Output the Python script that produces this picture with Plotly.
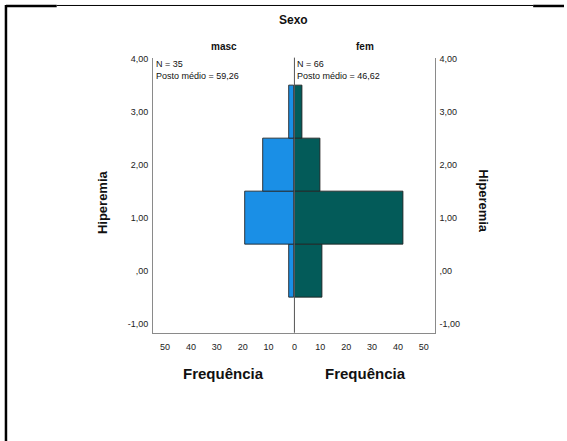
import plotly.graph_objects as go

# ---- data ----
hiperemia_bins = [0, 1, 2, 3]
masc_freq = [2, 19, 12, 2]
fem_freq = [11, 42, 10, 3]
y_tickvals = [-1, 0, 1, 2, 3, 4]
y_ticktext = ["-1,00", ",00", "1,00", "2,00", "3,00", "4,00"]
x_ticks_left = [0, 10, 20, 30, 40, 50]
x_ticks_right = [10, 20, 30, 40, 50]
group_labels = ["masc", "fem"]
group_stats = ["N = 35<br>Posto médio = 59,26", "N = 66<br>Posto médio = 46,62"]

W, H = 567, 441
FONT = "Liberation Sans, Arial, sans-serif"

def px(x):
    return x / W

def py(y):
    return 1 - y / H

x_left_dom = [px(154), px(296)]
x_right_dom = [px(296), px(437)]
y_dom = [py(332), py(55)]

fig = go.Figure()
fig.add_trace(go.Bar(
    y=hiperemia_bins, x=masc_freq, orientation="h", width=1,
    marker=dict(color="#1A8FE6", line=dict(color="rgba(30,30,30,0.85)", width=1)),
    xaxis="x", yaxis="y", showlegend=False, hoverinfo="x+y",
))
fig.add_trace(go.Bar(
    y=hiperemia_bins, x=fem_freq, orientation="h", width=1,
    marker=dict(color="#035B59", line=dict(color="rgba(30,30,30,0.85)", width=1)),
    xaxis="x2", yaxis="y2", showlegend=False, hoverinfo="x+y",
))

axis_line = "#8A8A8A"
tickfont = dict(family=FONT, size=9, color="#222")

yrange = [-1.16, 4.03]
fig.update_layout(
    width=W, height=H,
    margin=dict(l=0, r=0, t=0, b=0),
    paper_bgcolor="white", plot_bgcolor="white",
    bargap=0,
    xaxis=dict(domain=x_left_dom, range=[54.6, 0], anchor="y",
               showgrid=False, zeroline=False, showline=True, linecolor=axis_line, linewidth=1,
               tickvals=x_ticks_left, ticktext=[str(v) for v in x_ticks_left],
               ticks="outside", ticklen=5, tickcolor="rgba(0,0,0,0)", tickfont=tickfont),
    xaxis2=dict(domain=x_right_dom, range=[0, 54.2], anchor="y2",
                showgrid=False, zeroline=False, showline=True, linecolor=axis_line, linewidth=1,
                tickvals=x_ticks_right, ticktext=[str(v) for v in x_ticks_right],
                ticks="outside", ticklen=5, tickcolor="rgba(0,0,0,0)", tickfont=tickfont),
    yaxis=dict(domain=y_dom, range=yrange, anchor="x", side="left",
               showgrid=False, zeroline=False, showline=True, linecolor=axis_line, linewidth=1,
               tickvals=y_tickvals, ticktext=y_ticktext,
               ticks="outside", ticklen=2, tickcolor="rgba(0,0,0,0)", tickfont=tickfont),
    yaxis2=dict(domain=y_dom, range=yrange, anchor="x2", side="right",
                showgrid=False, zeroline=False, showline=True, linecolor=axis_line, linewidth=1,
                tickvals=y_tickvals, ticktext=y_ticktext,
                ticks="outside", ticklen=2, tickcolor="rgba(0,0,0,0)", tickfont=tickfont),
)

shapes = [
    # center zero line
    dict(type="line", xref="paper", yref="paper", x0=px(296), x1=px(296), y0=py(55), y1=py(332),
         line=dict(color="#555", width=1), layer="above"),
    # frame
    dict(type="line", xref="paper", yref="paper", x0=px(6), x1=px(6), y0=py(2), y1=py(441),
         line=dict(color="black", width=2.5)),
    dict(type="line", xref="paper", yref="paper", x0=px(6), x1=px(57), y0=py(3), y1=py(3),
         line=dict(color="black", width=2.5)),
    dict(type="line", xref="paper", yref="paper", x0=px(57), x1=px(536), y0=py(2.5), y1=py(2.5),
         line=dict(color="black", width=1)),
    dict(type="line", xref="paper", yref="paper", x0=px(536), x1=px(567), y0=py(3), y1=py(3),
         line=dict(color="black", width=2.5)),
]
fig.update_layout(shapes=shapes)

ann = []
def add_text(text, x, y, size, bold=False, xanchor="center", yanchor="middle", angle=0, align="center"):
    ann.append(dict(text=f"<b>{text}</b>" if bold else text, x=px(x), y=py(y), xref="paper", yref="paper",
                    showarrow=False, xanchor=xanchor, yanchor=yanchor, textangle=angle, align=align,
                    font=dict(family=FONT, size=size, color="#111")))

add_text("Sexo", 295, 17, 12, bold=True)
add_text(group_labels[0], 225, 44, 10, bold=True)
add_text(group_labels[1], 367, 44, 10, bold=True)
add_text(group_stats[0], 155, 67, 9, xanchor="left", align="left")
add_text(group_stats[1], 297, 67, 9, xanchor="left", align="left")
add_text("Frequência", 225, 373, 15, bold=True)
add_text("Frequência", 367, 373, 15, bold=True)
add_text("Hiperemia", 103, 200, 13, bold=True, angle=-90)
add_text("Hiperemia", 486, 200, 13, bold=True, angle=90)
fig.update_layout(annotations=ann)

fig.write_html(
    "out.html",
    config={"displayModeBar": False},
    post_script="document.body.style.margin='0px';document.body.style.padding='0px';document.body.style.overflow='hidden';",
)
